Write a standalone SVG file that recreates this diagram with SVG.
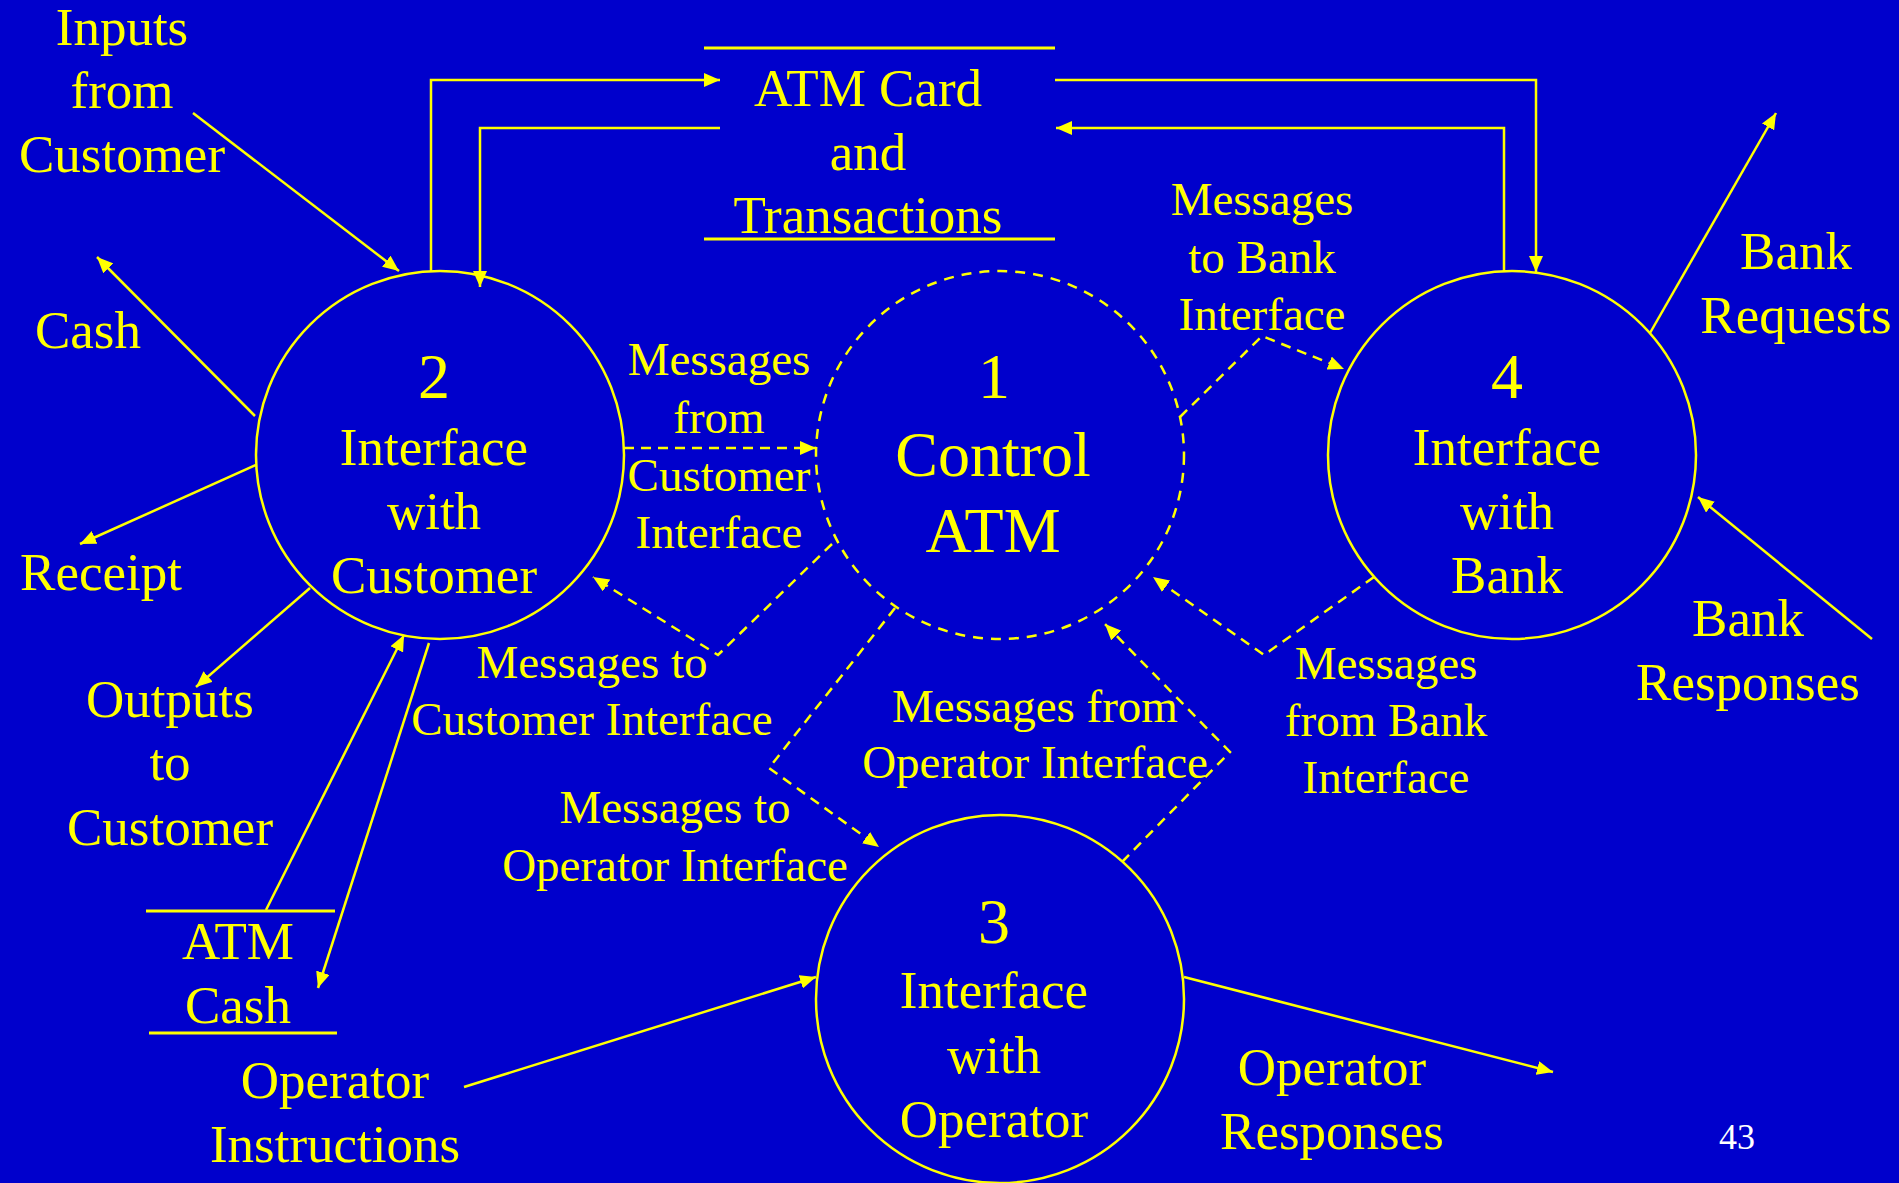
<svg xmlns="http://www.w3.org/2000/svg" width="1899" height="1183" viewBox="0 0 1899 1183">
<defs>
<marker id="ah" markerUnits="userSpaceOnUse" viewBox="0 0 16 14" refX="16" refY="7" markerWidth="16" markerHeight="14" orient="auto">
<path d="M0,0 L16,7 L0,14 Z" fill="#FFFF00"/>
</marker>
</defs>
<style>
.bg{fill:#0000CC}
.proc{fill:none;stroke:#FFFF00;stroke-width:2.5}
.ctrl{fill:none;stroke:#FFFF00;stroke-width:2.5;stroke-dasharray:10 8}
.flow{fill:none;stroke:#FFFF00;stroke-width:2.5;marker-end:url(#ah)}
.plain{fill:none;stroke:#FFFF00;stroke-width:2.5}
.dflow{fill:none;stroke:#FFFF00;stroke-width:2.5;stroke-dasharray:10 7;marker-end:url(#ah)}
.store{stroke:#FFFF00;stroke-width:3}
text{font-family:"Liberation Serif","Times New Roman",serif;fill:#FFFF00;text-anchor:middle}
.t53{font-size:53px}
.t47{font-size:47px}
.t64{font-size:64px}
.pg{font-size:36px;fill:#FFFFFF}
</style>
<rect class="bg" x="0" y="0" width="1899" height="1183"/>

<g id="connectors">
<path class="flow" d="M431,272 V80 H720"/>
<path class="flow" d="M720,128 H480 V287"/>
<path class="flow" d="M1055,80 H1536 V272"/>
<path class="flow" d="M1504,272 V128 H1056"/>
<path class="flow" d="M193,113 L399,271"/>
<path class="flow" d="M255,416 L97,257"/>
<path class="flow" d="M256,465 L80,544"/>
<path class="flow" d="M310,588 L196,687"/>
<path class="flow" d="M266,910 L404,635"/>
<path class="flow" d="M429,643 L318,988"/>
<path class="flow" d="M464,1087 L816,977"/>
<path class="flow" d="M1184,977 L1553,1072"/>
<path class="flow" d="M1650,333 L1776,113"/>
<path class="flow" d="M1872,639 L1698,497"/>
<path class="dflow" d="M624,448 H816"/>
<path class="dflow" d="M832,544 L718,655 L593,577"/>
<path class="dflow" d="M895,608 L769,768 L879,847"/>
<path class="dflow" d="M1122,862 L1230,752 L1105,624"/>
<path class="dflow" d="M1374,577 L1264,655 L1153,577"/>
<path class="dflow" d="M1180,417 L1262,336 L1344,369"/>
</g>

<g id="p1">
<circle class="ctrl" cx="1000" cy="455" r="184"/>
<text class="t64" x="994" y="398">1</text>
<text class="t64" x="993" y="476">Control</text>
<text class="t64" x="993" y="552">ATM</text>
</g>

<g id="p2">
<circle class="proc" cx="440" cy="455" r="184"/>
<text class="t64" x="434" y="398">2</text>
<text class="t53" x="434" y="465">Interface</text>
<text class="t53" x="434" y="529">with</text>
<text class="t53" x="434" y="593">Customer</text>
</g>

<g id="p3">
<circle class="proc" cx="1000" cy="999" r="184"/>
<text class="t64" x="994" y="943">3</text>
<text class="t53" x="994" y="1008">Interface</text>
<text class="t53" x="994" y="1073">with</text>
<text class="t53" x="994" y="1137">Operator</text>
</g>

<g id="p4">
<circle class="proc" cx="1512" cy="455" r="184"/>
<text class="t64" x="1507" y="398">4</text>
<text class="t53" x="1507" y="465">Interface</text>
<text class="t53" x="1507" y="529">with</text>
<text class="t53" x="1507" y="593">Bank</text>
</g>

<g id="store-card">
<line class="store" x1="704" y1="48" x2="1055" y2="48"/>
<line class="store" x1="704" y1="239" x2="1055" y2="239"/>
<text class="t53" x="868" y="106">ATM Card</text>
<text class="t53" x="868" y="170">and</text>
<text class="t53" x="868" y="233">Transactions</text>
</g>

<g id="store-cash">
<line class="store" x1="146" y1="911" x2="335" y2="911"/>
<line class="store" x1="149" y1="1033" x2="337" y2="1033"/>
<text class="t53" x="238" y="959">ATM</text>
<text class="t53" x="238" y="1023">Cash</text>
</g>

<g id="ext-inputs">
<text class="t53" x="122" y="45">Inputs</text>
<text class="t53" x="122" y="108">from</text>
<text class="t53" x="122" y="172">Customer</text>
</g>
<g id="ext-cash"><text class="t53" x="88" y="348">Cash</text></g>
<g id="ext-receipt"><text class="t53" x="101" y="590">Receipt</text></g>
<g id="ext-outputs">
<text class="t53" x="170" y="717">Outputs</text>
<text class="t53" x="170" y="780">to</text>
<text class="t53" x="170" y="845">Customer</text>
</g>
<g id="ext-opinstr">
<text class="t53" x="335" y="1098">Operator</text>
<text class="t53" x="335" y="1162">Instructions</text>
</g>
<g id="ext-opresp">
<text class="t53" x="1332" y="1085">Operator</text>
<text class="t53" x="1332" y="1149">Responses</text>
</g>
<g id="ext-bankreq">
<text class="t53" x="1796" y="269">Bank</text>
<text class="t53" x="1796" y="333">Requests</text>
</g>
<g id="ext-bankresp">
<text class="t53" x="1748" y="636">Bank</text>
<text class="t53" x="1748" y="700">Responses</text>
</g>

<g id="labels">
<text class="t47" x="719" y="375">Messages</text>
<text class="t47" x="719" y="433">from</text>
<text class="t47" x="719" y="491">Customer</text>
<text class="t47" x="719" y="548">Interface</text>
<text class="t47" x="592" y="678">Messages to</text>
<text class="t47" x="592" y="735">Customer Interface</text>
<text class="t47" x="675" y="823">Messages to</text>
<text class="t47" x="675" y="881">Operator Interface</text>
<text class="t47" x="1035" y="722">Messages from</text>
<text class="t47" x="1035" y="778">Operator Interface</text>
<text class="t47" x="1386" y="679">Messages</text>
<text class="t47" x="1386" y="736">from Bank</text>
<text class="t47" x="1386" y="793">Interface</text>
<text class="t47" x="1262" y="215">Messages</text>
<text class="t47" x="1262" y="273">to Bank</text>
<text class="t47" x="1262" y="330">Interface</text>
</g>

<text class="pg" x="1737" y="1149">43</text>
</svg>
